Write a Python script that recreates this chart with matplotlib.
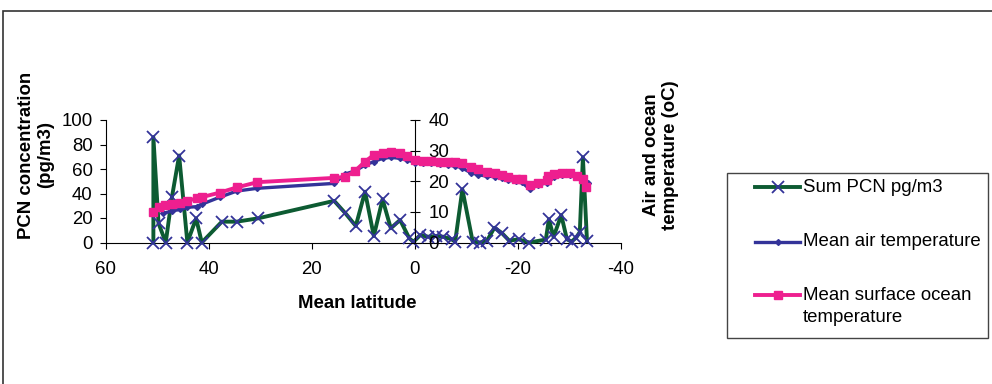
import matplotlib
matplotlib.use("Agg")
import matplotlib.pyplot as plt
from matplotlib.lines import Line2D
from matplotlib.patches import Rectangle

plt.rcParams['font.family'] = ['Liberation Sans', 'DejaVu Sans']
plt.rcParams['axes.unicode_minus'] = False

# Sum PCN pg/m3 (primary axis)
pcn_lat = [50.8, 50.8, 49.8, 48.4, 47.2, 45.8, 44.2, 42.5, 41.4, 37.5, 34.6, 30.5,
           15.7, 13.5, 11.5, 9.7, 8.0, 6.3, 4.7, 2.9, 1.1, 0.3, -1.0, -2.6, -4.1,
           -5.5, -7.1, -7.8, -9.2, -11.2, -12.6, -14.0, -15.4, -16.8, -18.3, -20.1,
           -22.2, -25.4, -26.0, -26.9, -28.4, -29.5, -30.4, -31.3, -32.0, -32.6, -33.4]
pcn = [0, 86, 15.7, 0, 37, 71, 0, 19.7, 0, 17, 17, 19.7,
       34, 23.8, 13.5, 41.5, 5.3, 35.3, 11.6, 18.4, 3.4, 0.5, 6, 4.7, 5.3,
       4.7, 2.6, 0.7, 43.4, 0.7, 0, 1.5, 12, 8, 1.5, 2.6,
       0, 2.4, 19, 4.5, 22.4, 2.6, 0.7, 4, 8.5, 69.5, 1]

# Mean surface ocean temperature (secondary axis)
ocean_lat = [50.8, 49.8, 48.5, 47.2, 45.6, 44.2, 42.4, 41.4, 37.9, 34.6, 30.6, 15.7,
             13.6, 11.7, 9.7, 8.0, 6.3, 4.7, 3.0, 1.5, 0.0, -1.6, -3.2, -4.9, -6.5,
             -7.8, -9.1, -10.8, -12.3, -13.9, -15.5, -16.8, -18.1, -19.6, -20.7,
             -22.3, -23.9, -25.6, -25.9, -26.9, -28.5, -30.1, -31.4, -32.6, -33.3]
ocean = [10.1, 11.5, 12.3, 12.5, 13.0, 13.6, 14.4, 14.8, 16.3, 18.0, 19.7, 21.1,
         21.4, 23.3, 26.4, 28.6, 29.1, 29.5, 29.1, 28.3, 27.0, 26.7, 26.6, 26.3, 26.2,
         26.2, 26.1, 24.8, 23.9, 23.1, 22.6, 22.1, 21.3, 20.7, 20.7,
         18.8, 19.5, 20.4, 21.7, 22.4, 22.8, 22.8, 21.7, 20.7, 18.0]

# Mean air temperature (secondary axis)
air_lat = [48.9, 47.2, 45.6, 44.2, 42.4, 41.4, 37.9, 34.6, 30.6, 15.7, 13.5, 11.6,
           9.7, 8.0, 6.3, 4.7, 3.0, 1.5, 0.0, -1.6, -3.2, -4.9, -6.5, -7.8, -9.1,
           -10.8, -12.3, -13.9, -15.5, -16.8, -18.1, -19.6, -20.7, -22.3, -23.9,
           -25.6, -25.9, -26.9, -28.5, -30.1, -31.4, -32.6, -33.6]
air = [9.5, 10.3, 10.8, 11.5, 11.7, 12.5, 14.8, 16.8, 17.7, 19.3, 22.4, 23.4,
       25.3, 26.4, 27.5, 27.8, 27.5, 27.0, 26.1, 26.0, 25.8, 25.5, 25.3, 25.0, 24.4,
       22.8, 22.1, 21.7, 21.5, 21.0, 20.4, 20.0, 19.7, 17.4, 18.8,
       19.5, 20.4, 21.3, 22.1, 22.0, 21.3, 20.0, 19.5]

legend_labels = ["Sum PCN pg/m3", "Mean air temperature", "Mean surface ocean", "temperature"]

green = "#0d5b32"
navy = "#333399"
pink = "#ee1f8f"
fs = 13.4

W, H = 992, 384
fig = plt.figure(figsize=(W / 100, H / 100), dpi=100)

def fx(px): return px / W
def fy(py): return 1 - py / H

# outer chart border
fig.patches.append(Rectangle((fx(3), -0.1), 1.2, fy(11) + 0.1, transform=fig.transFigure,
                             fill=False, edgecolor="#333333", linewidth=1.2))

ax = fig.add_axes([fx(106), fy(242.5), (621 - 106) / W, (242.5 - 120) / H])
ax.patch.set_alpha(0)
pcn_style = dict(color=green, lw=2.8, marker="x", ms=8, mew=1.3, mec=navy)
ax.plot(pcn_lat, pcn, zorder=3, clip_on=False, **pcn_style)
ax.set_xlim(60, -40)
ax.set_ylim(0, 100)
ax.set_xticks([60, 40, 20, 0, -20, -40])
ax.set_yticks([0, 20, 40, 60, 80, 100])
for s in ["top", "right"]:
    ax.spines[s].set_visible(False)
ax.tick_params(axis="x", direction="out", length=4, pad=9.5, labelsize=fs)
ax.tick_params(axis="y", direction="out", length=4.5, pad=5, labelsize=fs)

ax2 = ax.twinx()
air_style = dict(color=navy, lw=2.4, marker="D", ms=3)
ocean_style = dict(color=pink, lw=2.8, marker="s", ms=6)
ax2.plot(air_lat, air, zorder=3, clip_on=False, **air_style)
ax2.plot(ocean_lat, ocean, zorder=4, clip_on=False, **ocean_style)
ax2.set_ylim(0, 40)
ax2.set_yticks([0, 10, 20, 30, 40])
for s in ["top", "left", "bottom"]:
    ax2.spines[s].set_visible(False)
ax2.spines["right"].set_position(("data", 0))
ax2.tick_params(axis="y", direction="inout", length=7, pad=6, labelsize=fs)

fig.text(fx(36), fy(155), "PCN concentration\n(pg/m3)", rotation=90, ha="center",
         va="center", fontsize=fs, fontweight="bold", linespacing=1.2)
fig.text(fx(661), fy(155), "Air and ocean\ntemperature (oC)", rotation=90, ha="center",
         va="center", fontsize=fs, fontweight="bold", linespacing=1.2)
fig.text(fx(357), fy(303), "Mean latitude", ha="center", va="center",
         fontsize=fs, fontweight="bold")

# legend box drawn by hand to match the spacing
fig.patches.append(Rectangle((fx(727), fy(338)), (988 - 727) / W, (338 - 173) / H,
                             transform=fig.transFigure, fill=False,
                             edgecolor="#444444", linewidth=1.0))
for ypx, style in zip([187, 242, 295], [pcn_style, air_style, ocean_style]):
    fig.add_artist(Line2D([fx(755), fx(800)], [fy(ypx), fy(ypx)], transform=fig.transFigure,
                          color=style["color"], lw=style["lw"]))
    fig.add_artist(Line2D([fx(777.5)], [fy(ypx)], transform=fig.transFigure, linestyle="none",
                          **{k: v for k, v in style.items() if k != "lw"}))
for ypx, lab in zip([187, 242, 295, 318], legend_labels):
    fig.text(fx(803), fy(ypx), lab, ha="left", va="center", fontsize=fs)

fig.savefig("out.png", dpi=100)
